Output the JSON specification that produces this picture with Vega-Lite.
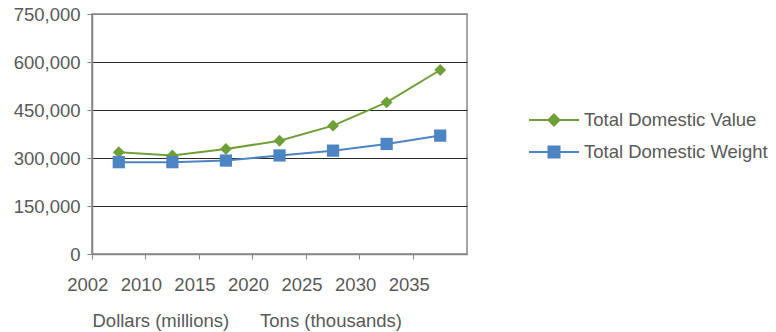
{
  "$schema": "https://vega.github.io/schema/vega-lite/v6.json",
  "width": 375,
  "height": 240,
  "autosize": {"type": "none"},
  "padding": {"left": 92, "top": 14, "right": 309, "bottom": 78},
  "background": "white",
  "config": {
    "font": "Liberation Sans",
    "view": {"stroke": "#868686", "strokeWidth": 1.5}
  },
  "data": {
    "values": [
      {"year": "2002", "series": "Total Domestic Value", "value": 318000},
      {"year": "2010", "series": "Total Domestic Value", "value": 308000},
      {"year": "2015", "series": "Total Domestic Value", "value": 328000},
      {"year": "2020", "series": "Total Domestic Value", "value": 354000},
      {"year": "2025", "series": "Total Domestic Value", "value": 401000},
      {"year": "2030", "series": "Total Domestic Value", "value": 474000},
      {"year": "2035", "series": "Total Domestic Value", "value": 575000},
      {"year": "2002", "series": "Total Domestic Weight", "value": 287000},
      {"year": "2010", "series": "Total Domestic Weight", "value": 287000},
      {"year": "2015", "series": "Total Domestic Weight", "value": 292000},
      {"year": "2020", "series": "Total Domestic Weight", "value": 308000},
      {"year": "2025", "series": "Total Domestic Weight", "value": 323000},
      {"year": "2030", "series": "Total Domestic Weight", "value": 344000},
      {"year": "2035", "series": "Total Domestic Weight", "value": 370000}
    ]
  },
  "encoding": {
    "x": {
      "field": "year",
      "type": "ordinal",
      "sort": null,
      "scale": {"type": "band", "paddingInner": 0, "paddingOuter": 0},
      "axis": {
        "bandPosition": 0,
        "labelAngle": 0,
        "labelAlign": "center",
        "labelOffset": -31,
        "labelFontSize": 18.5,
        "labelColor": "#595959",
        "labelPadding": 16,
        "tickSize": 5,
        "tickColor": "#868686",
        "domainColor": "#868686",
        "domainWidth": 1.5,
        "grid": false,
        "title": "Dollars (millions)\u00a0\u00a0\u00a0\u00a0\u00a0\u00a0Tons (thousands)",
        "titleAnchor": "start",
        "titleAlign": "left",
        "titleFontSize": 18.5,
        "titleFontWeight": "normal",
        "titleColor": "#595959",
        "titlePadding": 18
      }
    },
    "y": {
      "field": "value",
      "type": "quantitative",
      "scale": {"domain": [0, 750000], "nice": false},
      "axis": {
        "values": [0, 150000, 300000, 450000, 600000, 750000],
        "format": ",.0f",
        "title": null,
        "labelFontSize": 18.5,
        "labelColor": "#595959",
        "labelPadding": 7,
        "tickSize": 5,
        "tickColor": "#868686",
        "domainColor": "#868686",
        "domainWidth": 1.5,
        "gridColor": {"condition": {"test": "datum.value === 0 || datum.value === 750000", "value": "#868686"}, "value": "#2a2a2a"},
        "gridOpacity": 1
      }
    },
    "color": {
      "field": "series",
      "type": "nominal",
      "scale": {"domain": ["Total Domestic Value", "Total Domestic Weight"], "range": ["#6FA038", "#4D84C4"]},
      "legend": {
        "orient": "none",
        "legendX": 451,
        "legendY": 95,
        "title": null,
        "padding": 0,
        "symbolType": "M-2.5,0H2.5",
        "symbolSize": 400,
        "symbolStrokeWidth": 2,
        "symbolOpacity": 1,
        "labelFontSize": 18.5,
        "labelColor": "#595959",
        "labelOffset": 19,
        "labelLimit": 400,
        "rowPadding": 11,
        "encode": {
          "symbols": {
            "update": {
              "shape": {"signal": "datum.value === 'Total Domestic Value' ? 'M-2.5,0H2.5M0,-0.55L0.55,0L0,0.55L-0.55,0Z' : 'M-2.5,0H2.5M-0.55,-0.55H0.55V0.55H-0.55Z'"},
              "fill": {"signal": "datum.value === 'Total Domestic Value' ? '#6FA038' : '#4D84C4'"},
              "stroke": {"signal": "datum.value === 'Total Domestic Value' ? '#6FA038' : '#4D84C4'"},
              "opacity": {"value": 1}
            }
          }
        }
      }
    }
  },
  "layer": [
    {"mark": {"type": "line", "strokeWidth": 2}},
    {
      "transform": [{"filter": "datum.series === 'Total Domestic Value'"}],
      "mark": {"type": "point", "filled": true, "opacity": 1, "shape": "diamond", "size": 140}
    },
    {
      "transform": [{"filter": "datum.series === 'Total Domestic Weight'"}],
      "mark": {"type": "point", "filled": true, "opacity": 1, "shape": "square", "size": 150}
    }
  ]
}
